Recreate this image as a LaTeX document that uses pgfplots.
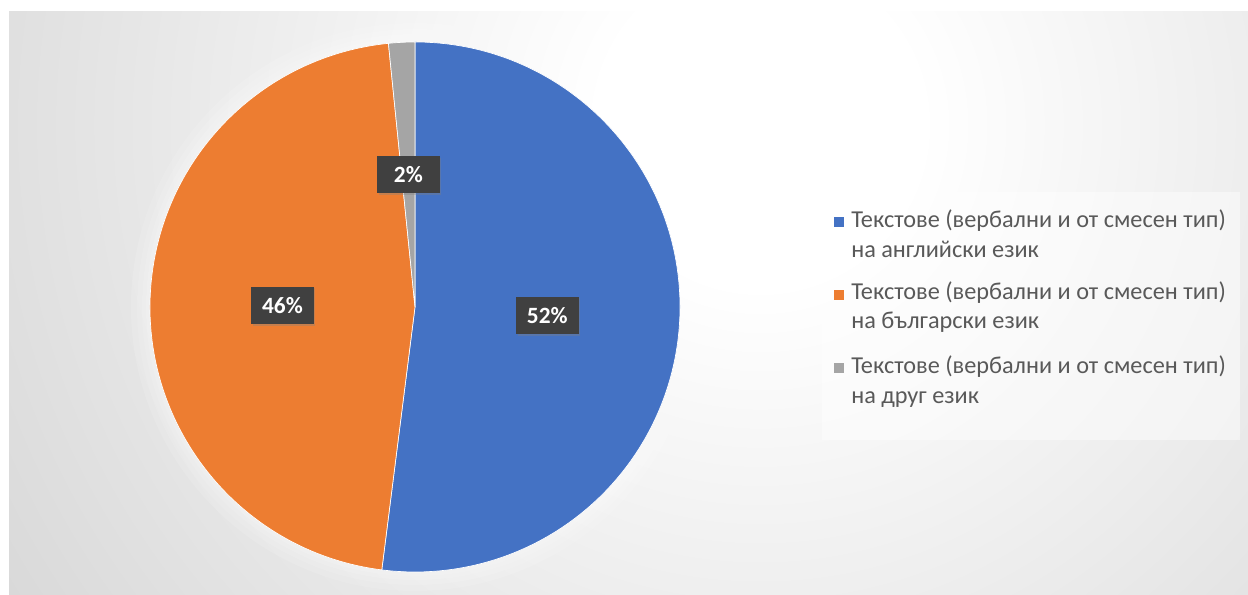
\documentclass[border=0pt]{standalone}
\usepackage{pgfplots}
\pgfplotsset{compat=1.18}
\usepackage{pgfplotstable}
\usepackage{fontspec}
\setmainfont{Carlito}
\usetikzlibrary{shadows}
\definecolor{pblue}{HTML}{4472C4}
\definecolor{porange}{HTML}{ED7D31}
\definecolor{pgray}{HTML}{A5A5A5}
\definecolor{lbl}{HTML}{404040}
\definecolor{legtext}{HTML}{595959}
\definecolor{bgout}{gray}{0.77}
\pgfdeclareradialshading{bgshade}{\pgfpoint{0bp}{0bp}}{color(0bp)=(white);color(4bp)=(white);color(32bp)=(bgout);color(50bp)=(bgout)}
\pgfplotstableread{
share
52.0
46.4
1.6
}\piedata
\begin{document}
\begin{tikzpicture}[x=0.75pt,y=0.75pt]
\useasboundingbox (0,0) rectangle (1248,595);
\fill[white] (0,0) rectangle (1248,595);
\begin{scope}
\clip (9,0) rectangle (1248,583);
\fill[bgout] (9,0) rectangle (1248,583);
\shade[shading=bgshade] (760,470) circle[radius=1000];
\end{scope}
% soft glow around the pie
\foreach \g in {4,8,13,19} {\fill[white,opacity=0.12] (415,288) circle[radius=265+\g];}
% legend box
\fill[white,opacity=0.45] (822,155) rectangle (1240,403);
\pgfplotstablegetelem{0}{share}\of\piedata \let\vA\pgfplotsretval
\pgfplotstablegetelem{1}{share}\of\piedata \let\vB\pgfplotsretval
\pgfplotstablegetelem{2}{share}\of\piedata \let\vC\pgfplotsretval
\pgfmathsetmacro\aA{90-3.6*\vA}
\pgfmathsetmacro\aB{\aA-3.6*\vB}
\pgfmathsetmacro\aC{\aB-3.6*\vC}
\pgfmathsetmacro\mA{(90+\aA)/2}
\pgfmathsetmacro\mB{(\aA+\aB)/2}
\pgfmathsetmacro\mC{(\aB+\aC)/2}
\begin{axis}[at={(0,0)}, anchor=south west, scale only axis,
  width=936pt, height=446.25pt, xmin=0, xmax=1248, ymin=0, ymax=595,
  hide axis, clip=false]
\fill[pblue, draw=white, line width=0.5pt] (axis cs:415,288) -- ++(90:198.75pt) arc[start angle=90, end angle=\aA, radius=198.75pt] -- cycle;
\fill[porange, draw=white, line width=0.5pt] (axis cs:415,288) -- ++(\aA:198.75pt) arc[start angle=\aA, end angle=\aB, radius=198.75pt] -- cycle;
\fill[pgray, draw=white, line width=0.5pt] (axis cs:415,288) -- ++(\aB:198.75pt) arc[start angle=\aB, end angle=\aC, radius=198.75pt] -- cycle;
\tikzset{lab/.style={fill=lbl, text=white, font=\bfseries\fontsize{17.5}{20}\selectfont, minimum width=47pt, minimum height=28pt, inner sep=0pt, drop shadow={opacity=0.35, shadow xshift=1.2pt, shadow yshift=-1.2pt}}}
\node[lab] at ([shift={(\mA:99.4pt)}]axis cs:415,288) {\pgfmathprintnumber[fixed,precision=0,assume math mode=true]{\vA}\%};
\node[lab] at ([shift={(\mB:99.4pt)}]axis cs:415,288) {\pgfmathprintnumber[fixed,precision=0,assume math mode=true]{\vB}\%};
\node[lab] at ([shift={(\mC:99.4pt)}]axis cs:415,288) {\pgfmathprintnumber[fixed,precision=0,assume math mode=true]{\vC}\%};
% legend
\tikzset{leg/.style={anchor=base west, inner sep=0pt, text=legtext, font=\fontsize{18.2}{21}\selectfont}}
\fill[pblue] (axis cs:834,368) rectangle (axis cs:844,378);
\fill[porange] (axis cs:834,295) rectangle (axis cs:844,305);
\fill[pgray] (axis cs:834,222) rectangle (axis cs:844,232);
\node[leg] at (axis cs:851,367) {Текстове (вербални и от смесен тип)};
\node[leg] at (axis cs:851,337) {на английски език};
\node[leg] at (axis cs:851,295) {Текстове (вербални и от смесен тип)};
\node[leg] at (axis cs:851,266) {на български език};
\node[leg] at (axis cs:851,221) {Текстове (вербални и от смесен тип)};
\node[leg] at (axis cs:851,191) {на друг език};
\end{axis}
\end{tikzpicture}
\end{document}
